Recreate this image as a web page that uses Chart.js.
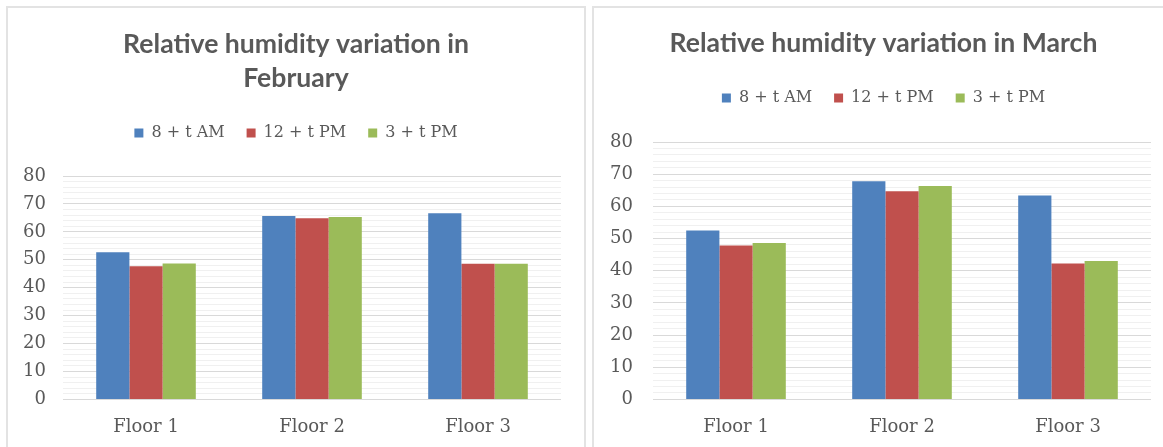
<!DOCTYPE html>
<html>
<head>
<meta charset="utf-8">
<script src="https://cdn.jsdelivr.net/npm/chart.js@4.4.1/dist/chart.umd.min.js"></script>
<style>
    html, body { margin: 0; padding: 0; background: #fff; overflow: hidden; }
    .box { position: absolute; top: 6px; border: 2px solid #e3e3e3; border-bottom: none; }
    #boxFeb { left: 6px; width: 576px; height: 450px; }
    #boxMar { left: 592px; width: 600px; height: 450px; }
</style>
</head>
<body>
<div class="box" id="boxFeb"><canvas id="chartFeb" width="576" height="450"></canvas></div>
<div class="box" id="boxMar"><canvas id="chartMar" width="579" height="450"></canvas></div>

<script>
const floors = ['Floor 1', 'Floor 2', 'Floor 3'];
const seriesNames = ['8 + t AM', '12 + t PM', '3 + t PM'];

// February
const febMorning = [52.7, 65.7, 66.7];
const febNoon = [47.7, 64.9, 48.6];
const febAfternoon = [48.7, 65.3, 48.6];

// March
const marMorning = [52.5, 67.8, 63.4];
const marNoon = [47.8, 64.7, 42.2];
const marAfternoon = [48.6, 66.3, 43.0];

const colors = ['#4f81bd', '#c0504d', '#9bbb59'];
const textGray = '#595959';
const labelFont = 'DejaVu Serif';

// extra room under the legend, like in Excel
const legendGap = {
    id: 'legendGap',
    beforeInit(chart, args, opts) {
        const fit = chart.legend.fit;
        chart.legend.fit = function () {
            fit.call(this);
            this.height += opts.gap || 0;
        };
    }
};

function makeChart(id, title, values, axisWidth, rightWidth, tickPad, titlePad, gap) {
    const ctx = document.getElementById(id);
    return new Chart(ctx, {
        type: 'bar',
        data: {
            labels: floors,
            datasets: values.map((v, i) => ({
                label: seriesNames[i],
                data: v,
                backgroundColor: colors[i],
                borderWidth: 0,
                barPercentage: 1,
                categoryPercentage: 0.6
            }))
        },
        plugins: [legendGap],
        options: {
            responsive: false,
            animation: false,
            layout: { padding: { left: 10, right: 10, top: 0, bottom: 11 } },
            plugins: {
                legendGap: { gap: gap },
                title: {
                    display: true,
                    text: title,
                    color: textGray,
                    font: { family: 'Lato', size: 26.6, weight: 'bold', lineHeight: 34 / 26.6 },
                    padding: titlePad
                },
                legend: {
                    display: true,
                    labels: {
                        color: textGray,
                        boxWidth: 9,
                        boxHeight: 9,
                        padding: 22,
                        font: { family: labelFont, size: 16 }
                    }
                },
                tooltip: { enabled: false }
            },
            scales: {
                x: {
                    grid: { display: false },
                    border: { display: false },
                    ticks: {
                        color: textGray,
                        padding: 9,
                        font: { family: labelFont, size: 18 }
                    }
                },
                y: {
                    min: 0,
                    max: 80,
                    afterFit: (scale) => { scale.width = axisWidth; },
                    border: { display: false },
                    grid: {
                        drawTicks: false,
                        color: (c) => c.tick.value % 10 === 0 ? '#d9d9d9' : '#f0f0f0'
                    },
                    ticks: {
                        stepSize: 2,
                        autoSkip: false,
                        padding: tickPad,
                        color: textGray,
                        font: { family: labelFont, size: 18 },
                        callback: (v) => v % 10 === 0 ? String(v) : ''
                    }
                },
                // empty axis on the right, only keeps the plot off the border
                spacer: {
                    type: 'linear',
                    position: 'right',
                    afterFit: (scale) => { scale.width = rightWidth; },
                    grid: { display: false },
                    border: { display: false },
                    ticks: { display: false }
                }
            }
        }
    });
}

makeChart('chartFeb', ['Relative humidity variation in', 'February'],
    [febMorning, febNoon, febAfternoon],
    45, 13, 17, { top: 19, bottom: 8 }, 25);

makeChart('chartMar', 'Relative humidity variation in March',
    [marMorning, marNoon, marAfternoon],
    49, 12, 20, { top: 18, bottom: 8 }, 26);
</script>
</body>
</html>
